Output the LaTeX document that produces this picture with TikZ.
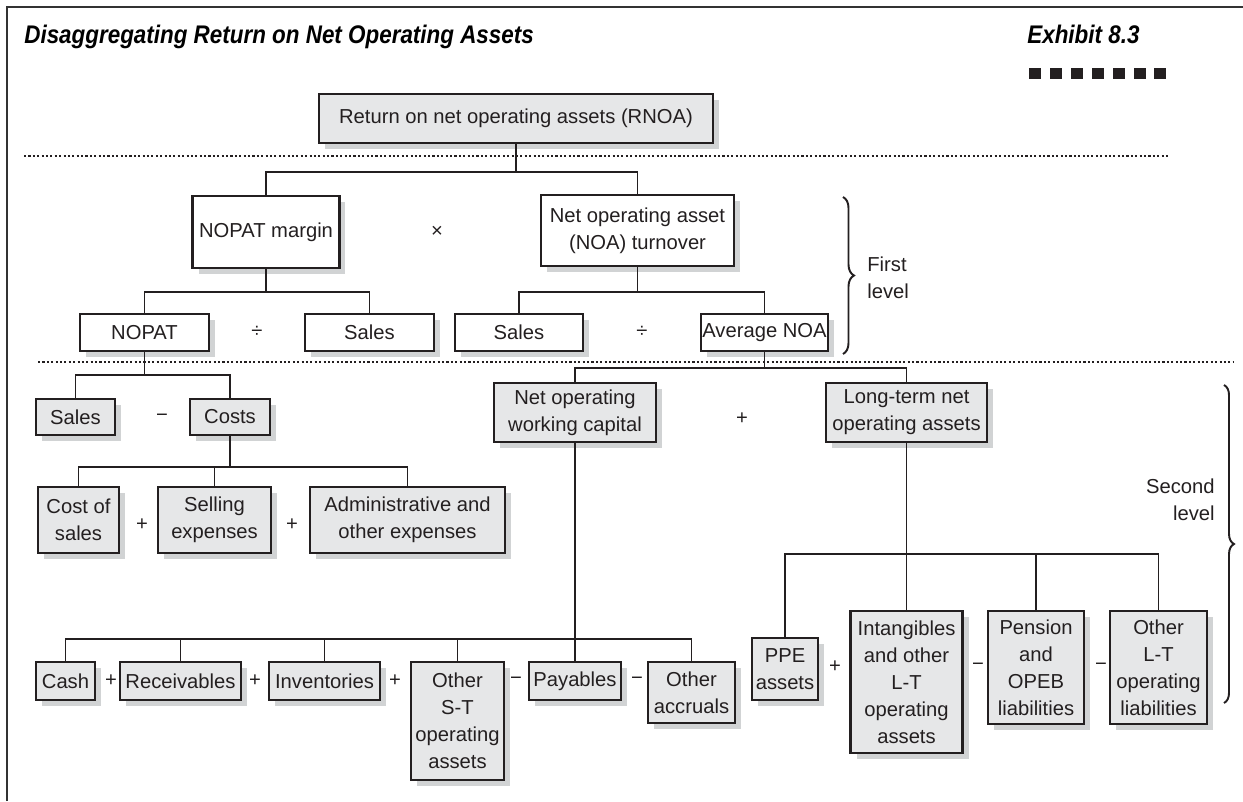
\documentclass[tikz,border=0pt]{standalone}
\usepackage{fontspec}
\setmainfont{Liberation Sans}
\newfontfamily\titlefont{Liberation Sans}[FakeStretch=0.88]
\usetikzlibrary{shadows,decorations.pathreplacing}

\definecolor{ink}{HTML}{231F20}
\definecolor{boxgrey}{HTML}{E6E7E8}
\definecolor{shadegrey}{HTML}{D1D3D4}

\begin{document}
\begin{tikzpicture}[x=0.02cm, y=-0.02cm,
    greybox/.style={draw=ink, line width=1.3pt, fill=boxgrey, inner sep=0pt, align=center, text=ink,
        font=\fontsize{11.5}{15.4}\selectfont,
        drop shadow={shadow xshift=0.12cm, shadow yshift=-0.12cm, fill=shadegrey, opacity=1}},
    whitebox/.style={greybox, fill=white},
    op/.style={text=ink, inner sep=0pt, font=\fontsize{11.5}{15.4}\selectfont},
    heading/.style={anchor=base west, inner sep=0pt, font=\titlefont\fontsize{14.5}{17}\selectfont\bfseries\itshape},
    link/.style={draw=ink, line width=1.1pt},
    dotline/.style={draw=ink, line width=1.2pt, dash pattern=on 1.2pt off 1.3pt},
    levelbrace/.style={draw=ink, line width=1.1pt, decorate, decoration={brace, amplitude=#1}}]

                \useasboundingbox (0,0) rectangle (1243,801);

                % Frame and heading
                \draw[black!80, line width=1pt] (7,801) -- (7,7) -- (1243,7);
                \node[heading] (title) at (24,43) {Disaggregating Return on Net Operating Assets};
                \node[heading] (exhibit) at (1027,43) {Exhibit 8.3};
                \foreach \i in {0,...,6}
                    \fill[ink] (1029+20.9*\i,68) rectangle ++(12,11);

                % Level separators
                \draw[dotline] (24,156) -- (1169,156);
                \draw[dotline] (38,362) -- (1233,362);

                % Nodes
                \node[greybox, minimum width=7.88cm, minimum height=0.98cm] (rnoa) at (516,118.5) {Return on net operating assets (RNOA)};

                \node[whitebox, minimum width=2.94cm, minimum height=1.44cm] (margin) at (266,232) {NOPAT margin};
                \node[whitebox, minimum width=3.86cm, minimum height=1.42cm] (turnover) at (637.5,230.5) {Net operating asset\\(NOA) turnover};
                \node[whitebox, minimum width=2.58cm, minimum height=0.74cm] (nopat) at (144.5,332.5) {NOPAT};
                \node[whitebox, minimum width=2.58cm, minimum height=0.74cm] (salesA) at (369.5,332.5) {Sales};
                \node[whitebox, minimum width=2.56cm, minimum height=0.74cm] (salesB) at (519,332.5) {Sales};
                \node[whitebox, minimum width=2.54cm, minimum height=0.74cm] (avgnoa) at (764.5,332.5) {Average NOA};

                \node[greybox, minimum width=1.58cm, minimum height=0.72cm] (salesC) at (75.5,417) {Sales};
                \node[greybox, minimum width=1.6cm, minimum height=0.72cm] (costs) at (230,417) {Costs};
                \node[greybox, minimum width=1.62cm, minimum height=1.32cm] (cos) at (78.5,520) {Cost of\\sales};
                \node[greybox, minimum width=2.26cm, minimum height=1.32cm] (selling) at (214.5,520) {Selling\\expenses};
                \node[greybox, minimum width=3.9cm, minimum height=1.32cm] (admin) at (407.5,520) {Administrative and\\other expenses};

                \node[greybox, minimum width=3.24cm, minimum height=1.18cm] (nowc) at (575,412.5) {Net operating\\working capital};
                \node[greybox, minimum width=3.22cm, minimum height=1.18cm] (ltnoa) at (906.5,412.5) {Long-term net\\operating assets};

                \node[greybox, minimum width=1.18cm, minimum height=0.76cm] (cash) at (65.5,681) {Cash};
                \node[greybox, minimum width=2.42cm, minimum height=0.76cm] (recv) at (180.5,681) {Receivables};
                \node[greybox, minimum width=2.22cm, minimum height=0.76cm] (inv) at (324.5,681) {Inventories};
                \node[greybox, minimum width=1.86cm, minimum height=2.36cm] (otherst) at (457.5,721) {Other\\S-T\\operating\\assets};
                \node[greybox, minimum width=1.84cm, minimum height=0.76cm] (pay) at (575,681) {Payables};
                \node[greybox, minimum width=1.74cm, minimum height=1.22cm] (accr) at (691.5,692.5) {Other\\accruals};

                \node[greybox, minimum width=1.32cm, minimum height=1.24cm] (ppe) at (785,669) {PPE\\assets};
                \node[greybox, minimum width=2.24cm, minimum height=2.84cm] (intang) at (906.5,682) {Intangibles\\and other\\L-T\\operating\\assets};
                \node[greybox, minimum width=1.92cm, minimum height=2.26cm] (pension) at (1036,667.5) {Pension\\and\\OPEB\\liabilities};
                \node[greybox, minimum width=1.94cm, minimum height=2.26cm] (otherlt) at (1158.5,667.5) {Other\\L-T\\operating\\liabilities};

                % Operators
                \node[op] (times) at (437,232) {×};
                \node[op] (divA) at (257,332) {÷};
                \node[op] (divB) at (642,332) {÷};
                \node[op] (minusA) at (162,418) {−};
                \node[op] (plusA) at (142,525) {+};
                \node[op] (plusB) at (292,525) {+};
                \node[op] (plusC) at (742,419) {+};
                \node[op] (plusD) at (111,681) {+};
                \node[op] (plusE) at (255,681) {+};
                \node[op] (plusF) at (395,681) {+};
                \node[op] (minusB) at (516,681) {−};
                \node[op] (minusC) at (637,681) {−};
                \node[op] (plusG) at (835,667) {+};
                \node[op] (minusD) at (978,667) {−};
                \node[op] (minusE) at (1101,667) {−};

                % Bus heights
                \coordinate (bus1) at (0,172);
                \coordinate (bus2) at (0,292);
                \coordinate (bus3) at (0,375);
                \coordinate (bus4) at (0,368);
                \coordinate (bus5) at (0,467);
                \coordinate (bus6) at (0,554);
                \coordinate (bus7) at (0,639);

                % Edges
                \draw[link] (rnoa.south) -- (rnoa.south |- bus1);
                \draw[link] (margin.north) |- (turnover.north |- bus1) -- (turnover.north);
                \draw[link] (margin.south) -- (margin.south |- bus2);
                \draw[link] (nopat.north) |- (salesA.north |- bus2) -- (salesA.north);
                \draw[link] (turnover.south) -- (turnover.south |- bus2);
                \draw[link] (salesB.north) |- (avgnoa.north |- bus2) -- (avgnoa.north);
                \draw[link] (nopat.south) -- (nopat.south |- bus3);
                \draw[link] (salesC.north) |- (costs.north |- bus3) -- (costs.north);
                \draw[link] (costs.south) -- (costs.south |- bus5);
                \draw[link] (cos.north) |- (admin.north |- bus5) -- (admin.north);
                \draw[link] (selling.north) -- (selling.north |- bus5);
                \draw[link] (avgnoa.south) -- (avgnoa.south |- bus4);
                \draw[link] (nowc.north) |- (ltnoa.north |- bus4) -- (ltnoa.north);
                \draw[link] (nowc.south) -- (pay.north);
                \draw[link] (cash.north) |- (accr.north |- bus7) -- (accr.north);
                \foreach \n in {recv,inv,otherst}
                    \draw[link] (\n.north) -- (\n.north |- bus7);
                \draw[link] (ltnoa.south) -- (intang.north);
                \draw[link] (ppe.north) |- (otherlt.north |- bus6) -- (otherlt.north);
                \draw[link] (pension.north) -- (pension.north |- bus6);

                % Levels
                \coordinate (firsttop) at (843,197);
                \coordinate (firstbot) at (843,354);
                \coordinate (secondtop) at (1224,385);
                \coordinate (secondbot) at (1224,703);
                \draw[levelbrace=0.22cm] (firsttop) -- (firstbot);
                \draw[levelbrace=0.2cm] (secondtop) -- (secondbot);
                \node[op, anchor=west, align=left] (firstlbl) at (867,278) {First\\level};
                \node[op, anchor=east, align=right] (secondlbl) at (1215,500) {Second\\level};
            \end{tikzpicture}
\end{document}
